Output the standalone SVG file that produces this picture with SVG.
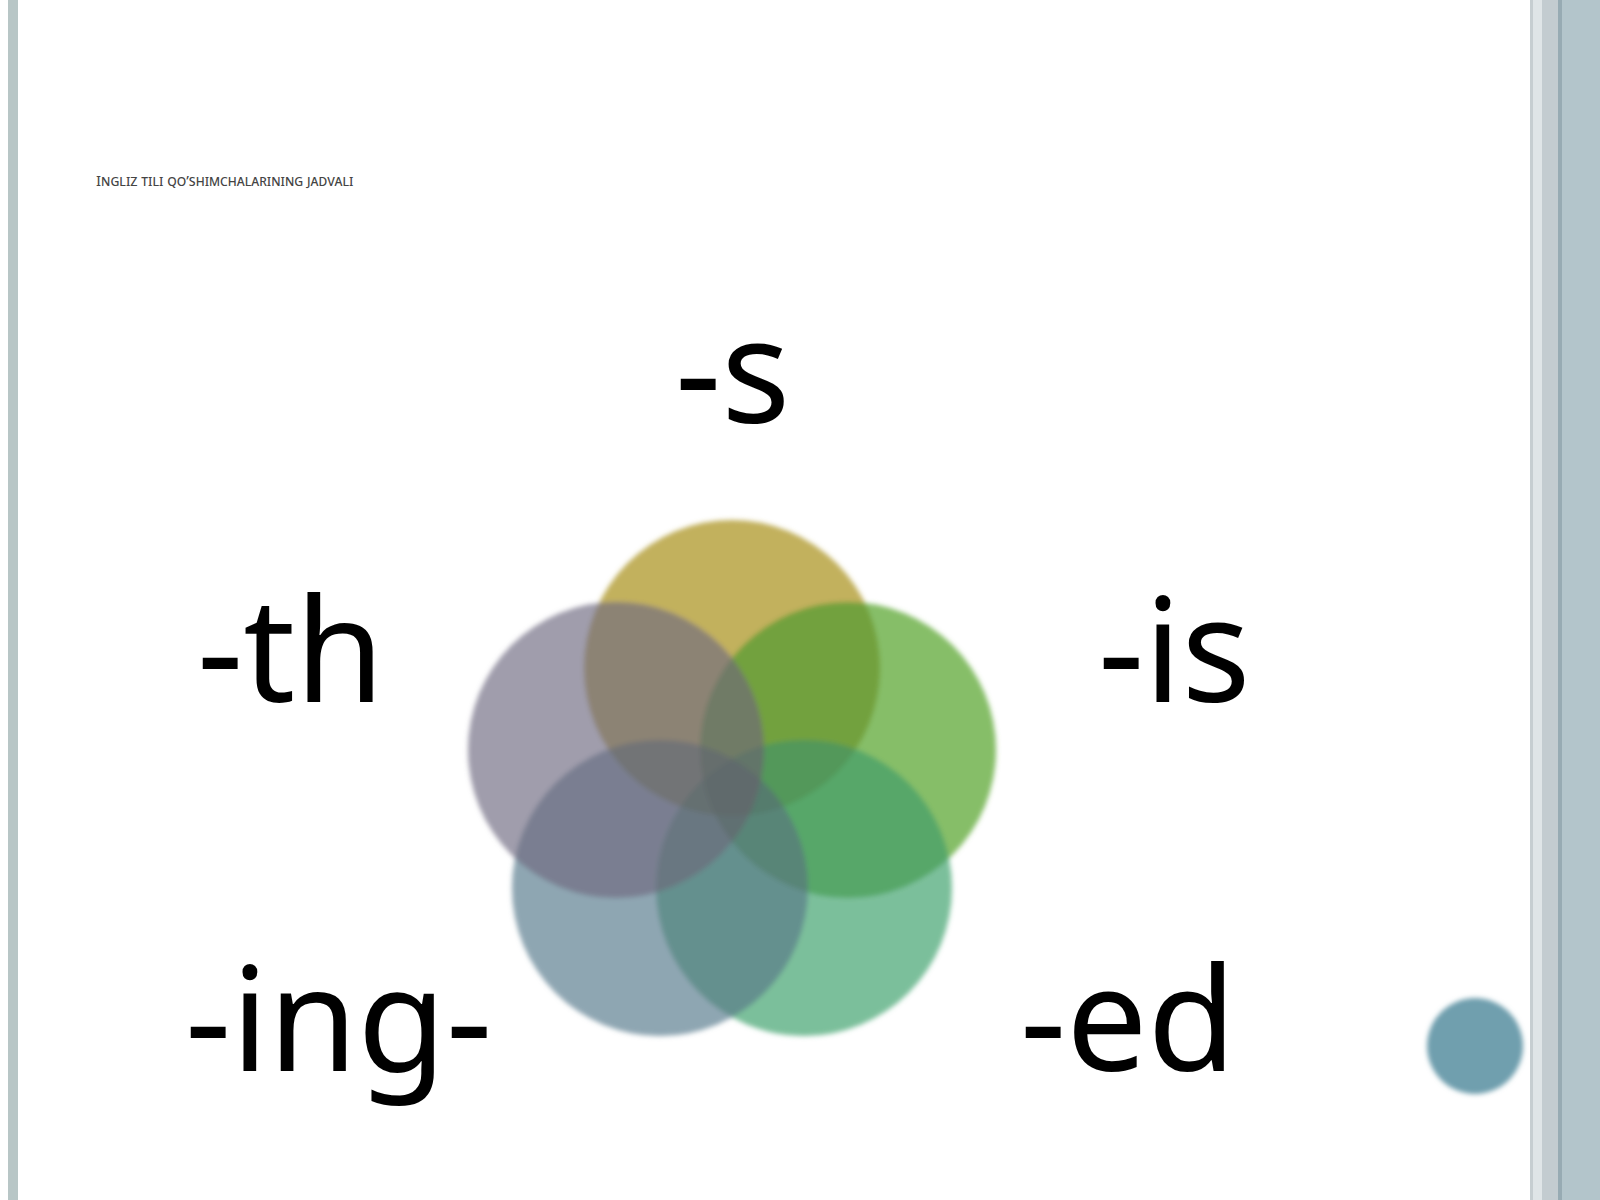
<svg xmlns="http://www.w3.org/2000/svg" width="1600" height="1200" viewBox="0 0 1600 1200">
<style>
.lbl{font-family:"Noto Sans","Open Sans","DejaVu Sans",sans-serif;font-size:144px;fill:#000}
.title{font-family:"Noto Sans","Open Sans","DejaVu Sans",sans-serif;font-size:15px;fill:#444444;font-variant:small-caps}
</style>
<defs>
<filter id="soft" x="-10%" y="-10%" width="120%" height="120%">
<feGaussianBlur stdDeviation="2.6"/>
</filter>
</defs>
<rect width="1600" height="1200" fill="#ffffff"/>
<!-- left strip -->
<rect x="8" y="0" width="10" height="1200" fill="#b8c6c6"/>
<!-- right strips -->
<rect x="1530" y="0" width="70" height="1200" fill="#b3c5cb"/>
<rect x="1530" y="0" width="3" height="1200" fill="#c6ced1"/>
<rect x="1533" y="0" width="9" height="1200" fill="#dfe5e7"/>
<rect x="1542" y="0" width="16" height="1200" fill="#c3ccd0"/>
<rect x="1558" y="0" width="4" height="1200" fill="#97abb3"/>

<text class="title" x="96" y="186">Ingliz tili qo’shimchalarining jadvali</text>

<g id="venn" filter="url(#soft)">
<g id="alpha">
<circle id="c-top" cx="732" cy="668" r="148" fill="#b39e36" fill-opacity="0.8"/>
<circle id="c-right" cx="848" cy="750" r="148" fill="#68ae42" fill-opacity="0.8"/>
<circle id="c-bright" cx="804" cy="888" r="148" fill="#5aaf82" fill-opacity="0.8"/>
<circle id="c-bleft" cx="660" cy="888" r="148" fill="#72909f" fill-opacity="0.8"/>
<circle id="c-left" cx="616" cy="750" r="148" fill="#888597" fill-opacity="0.8"/>
</g>
<g id="mult" opacity="0.3">
<circle cx="732" cy="668" r="148" fill="#c2b15e" style="mix-blend-mode:multiply"/>
<circle cx="848" cy="750" r="148" fill="#86be68" style="mix-blend-mode:multiply"/>
<circle cx="804" cy="888" r="148" fill="#7bbf9b" style="mix-blend-mode:multiply"/>
<circle cx="660" cy="888" r="148" fill="#8ea6b2" style="mix-blend-mode:multiply"/>
<circle cx="616" cy="750" r="148" fill="#a09dac" style="mix-blend-mode:multiply"/>
</g>
</g>

<g id="label-s"><text class="lbl" x="675" y="423">-s</text></g>
<g id="label-is"><text class="lbl" x="1098" y="702">-is</text></g>
<g id="label-ed"><text class="lbl" x="1020" y="1071">-ed</text></g>
<g id="label-ing"><text class="lbl" x="185" y="1071">-ing-</text></g>
<g id="label-th"><text class="lbl" x="197" y="702">-th</text></g>

<g id="dot"><circle cx="1475" cy="1046" r="48" fill="#6f9fae" filter="url(#soft)"/></g>
<g id="connectors"></g>
</svg>
